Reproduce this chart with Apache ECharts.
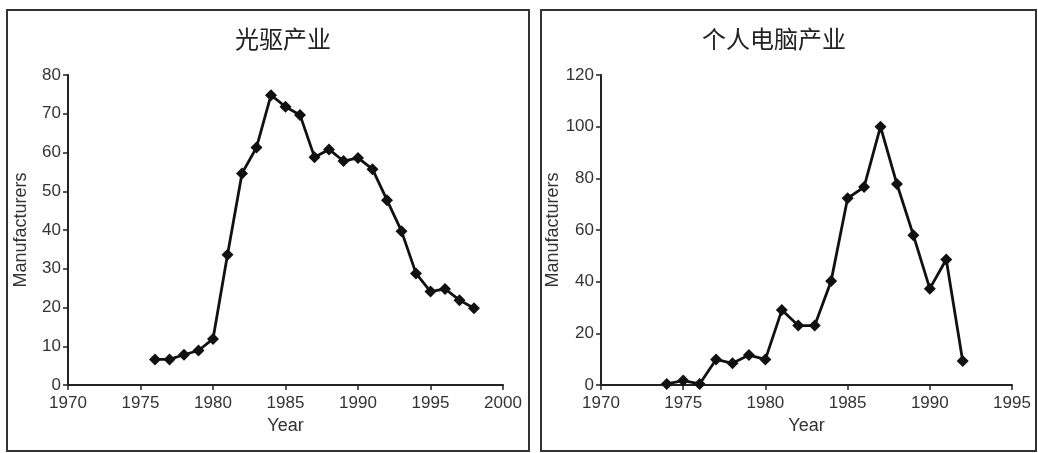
<!DOCTYPE html>
<html lang="zh-CN">
<head>
    <meta charset="UTF-8">
    <style>
        html, body { margin: 0; padding: 0; background: #fff; }
        #chart { width: 1038px; height: 453px; }
    </style>
</head>
<body>
<div id="chart"></div>
<script src="https://cdn.jsdelivr.net/npm/echarts@6/dist/echarts.min.js"></script>
<script type="text/javascript">
    // 光驱产业
    var yearsCd = [1976, 1977, 1978, 1979, 1980, 1981, 1982, 1983, 1984, 1985, 1986, 1987,
        1988, 1989, 1990, 1991, 1992, 1993, 1994, 1995, 1996, 1997, 1998];
    var makersCd = [6.6, 6.6, 7.8, 8.9, 11.9, 33.6, 54.6, 61.3, 74.8, 71.8, 69.7, 58.8,
        60.8, 57.8, 58.6, 55.7, 47.7, 39.7, 28.8, 24.1, 24.8, 21.9, 19.8];

    // 个人电脑产业
    var yearsPc = [1974, 1975, 1976, 1977, 1978, 1979, 1980, 1981, 1982, 1983, 1984, 1985,
        1986, 1987, 1988, 1989, 1990, 1991, 1992];
    var makersPc = [0.4, 1.7, 0.4, 9.9, 8.4, 11.6, 9.9, 29, 23, 23, 40.3, 72.3,
        76.6, 100, 77.8, 58, 37.3, 48.6, 9.3];

    var titles = ['光驱产业', '个人电脑产业'];

    function pairs(xs, ys) {
        var out = [];
        for (var i = 0; i < xs.length; i++) {
            out.push([xs[i], ys[i]]);
        }
        return out;
    }

    var txt = { color: '#333', fontFamily: 'Liberation Sans, Arial, sans-serif', fontSize: 17 };
    var axLine = { lineStyle: { color: '#222', width: 2 } };
    var axTick = { length: 5, lineStyle: { color: '#222', width: 1.5 } };

    function xAx(idx, max) {
        return {
            type: 'value', gridIndex: idx, min: 1970, max: max, interval: 5,
            name: 'Year', nameLocation: 'middle', nameGap: 30,
            nameTextStyle: { color: '#333', fontFamily: txt.fontFamily, fontSize: 18 },
            axisLine: axLine, axisTick: axTick, splitLine: { show: false },
            axisLabel: { color: txt.color, fontFamily: txt.fontFamily, fontSize: txt.fontSize, margin: 10,
                formatter: function (v) { return String(v); } }
        };
    }

    function yAx(idx, max, step) {
        return {
            type: 'value', gridIndex: idx, min: 0, max: max, interval: step,
            name: 'Manufacturers', nameLocation: 'middle', nameGap: 38,
            nameTextStyle: { color: '#333', fontFamily: txt.fontFamily, fontSize: 18 },
            axisLine: { show: true, lineStyle: axLine.lineStyle }, axisTick: { show: true, length: 5, lineStyle: axTick.lineStyle },
            splitLine: { show: false },
            axisLabel: { color: txt.color, fontFamily: txt.fontFamily, fontSize: txt.fontSize, margin: 7 }
        };
    }

    function lineSeries(idx, data) {
        return {
            type: 'line', xAxisIndex: idx, yAxisIndex: idx, data: data,
            symbol: 'diamond', symbolSize: 12, showSymbol: true,
            lineStyle: { color: '#111', width: 2.8 },
            itemStyle: { color: '#111' },
            animation: false
        };
    }

    var chart = echarts.init(document.getElementById('chart'));
    var option = {
        backgroundColor: '#fff',
        animation: false,
        title: [
            { text: titles[0], left: 278, top: 22, textAlign: 'center',
              textStyle: { fontFamily: 'Noto Sans CJK SC', fontWeight: 'normal', fontSize: 24, color: '#222' } },
            { text: titles[1], left: 769, top: 22, textAlign: 'center',
              textStyle: { fontFamily: 'Noto Sans CJK SC', fontWeight: 'normal', fontSize: 24, color: '#222' } }
        ],
        graphic: [
            { type: 'rect', shape: { x: 7, y: 10, width: 522, height: 441 },
              style: { fill: 'none', stroke: '#333', lineWidth: 2 } },
            { type: 'rect', shape: { x: 541, y: 10, width: 495, height: 441 },
              style: { fill: 'none', stroke: '#333', lineWidth: 2 } }
        ],
        grid: [
            { left: 68, top: 75, width: 435, height: 310 },
            { left: 601, top: 75, width: 411, height: 310 }
        ],
        xAxis: [xAx(0, 2000), xAx(1, 1995)],
        yAxis: [yAx(0, 80, 10), yAx(1, 120, 20)],
        series: [
            lineSeries(0, pairs(yearsCd, makersCd)),
            lineSeries(1, pairs(yearsPc, makersPc))
        ]
    };
    chart.setOption(option);
</script>
</body>
</html>
